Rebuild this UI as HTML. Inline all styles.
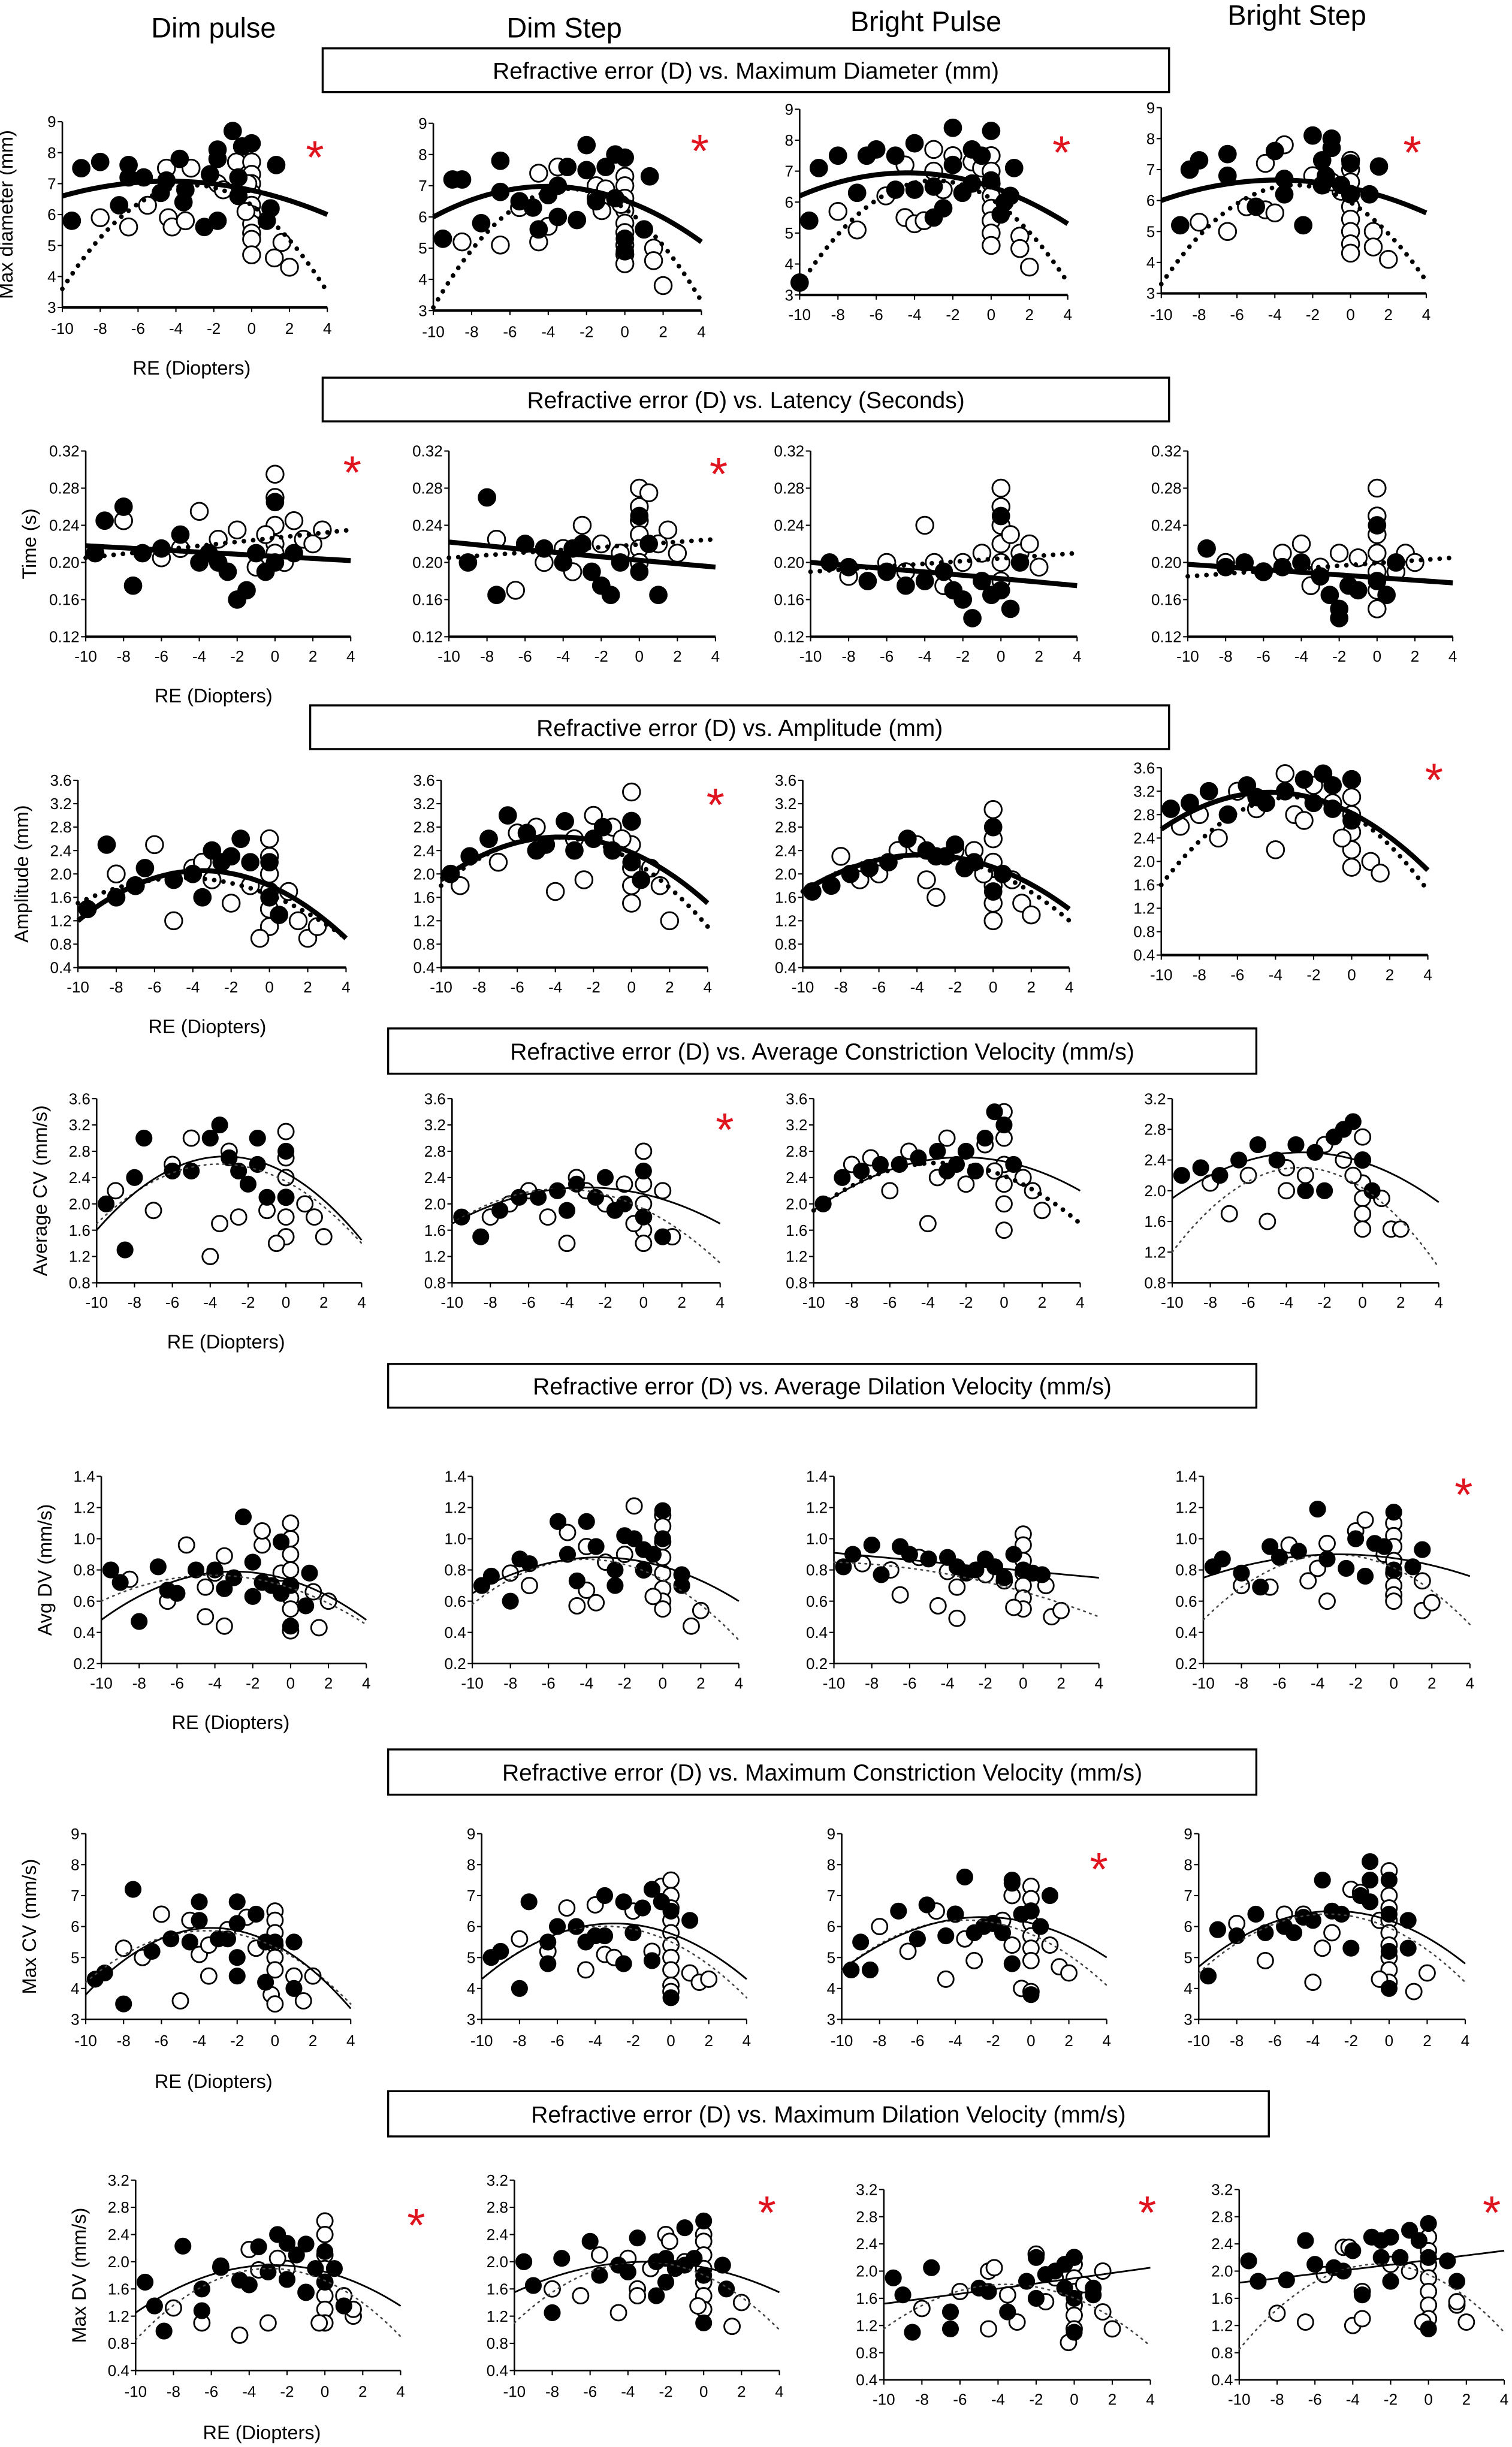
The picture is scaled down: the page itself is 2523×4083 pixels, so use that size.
<!DOCTYPE html>
<html><head><meta charset="utf-8">
<style>
html,body{margin:0;padding:0;background:#fff;}
svg{display:block;font-family:"Liberation Sans",sans-serif;}
</style></head>
<body>
<svg id="fig" xmlns="http://www.w3.org/2000/svg" width="2523" height="4083" viewBox="0 0 970 1568" preserveAspectRatio="none">
<rect x="0" y="0" width="970" height="1568" fill="#fff"/>
<text x="137" y="24" font-size="18" text-anchor="middle">Dim pulse</text>
<text x="362" y="24" font-size="18" text-anchor="middle">Dim Step</text>
<text x="594" y="20" font-size="18" text-anchor="middle">Bright Pulse</text>
<text x="832" y="16" font-size="18" text-anchor="middle">Bright  Step</text>
<g id="plots"></g>
</svg>
<script>
// ---------- data: [RE diopters, value] ----------
const r1c1F=[[-9.5,5.8],[-9,7.5],[-8,7.7],[-7,6.3],[-6.5,7.6],[-6.5,7.2],[-5.7,7.2],[-4.5,7.1],[-4.8,6.7],[-3.8,7.8],[-3.5,6.8],[-3.6,6.4],[-2.5,5.6],[-2.2,7.3],[-1.8,5.8],[-1.8,8.1],[-1.8,7.8],[-1,8.7],[-0.5,8.2],[-0.7,7.2],[0,8.3],[-0.7,6.6],[1,6.2],[0.8,5.8],[1.3,7.6]];
const r1c1O=[[-8,5.9],[-6.5,5.6],[-5.5,6.3],[-4.5,7.5],[-4.4,5.9],[-4.2,5.6],[-3.5,5.8],[-3.2,7.5],[-1.8,7],[-1.5,6.8],[-0.8,7.7],[0,7.7],[0,7.3],[0,7],[0,6.7],[0,6.3],[0,6],[0,5.7],[0,5.4],[0,5.2],[0,4.7],[-0.3,6.1],[-0.2,7],[1.2,4.6],[1.6,5.1],[2,4.3]];
const r1c2F=[[-9.5,5.3],[-9,7.2],[-8.5,7.2],[-7.5,5.8],[-6.5,7.8],[-6.5,6.8],[-5.5,6.5],[-4.8,6.3],[-4.5,5.6],[-4,6.7],[-3.5,6],[-3,7.6],[-2.5,5.9],[-2,8.3],[-2,7.5],[-1.5,6.5],[-1,7.6],[-0.5,8],[0,7.9],[-0.5,6.6],[0,5.3],[0,4.9],[1,5.6],[1.3,7.3],[-3.5,7]];
const r1c2O=[[-8.5,5.2],[-6.5,5.1],[-5.5,6.3],[-4.5,7.4],[-4.5,5.2],[-4,5.7],[-3.5,7.6],[-1.5,7],[-1.5,6.6],[-1,6.9],[0,7.3],[0,7],[0,6.6],[0,6.2],[0,5.8],[0,5.5],[0,5.1],[0,4.8],[0,4.5],[-0.2,6.4],[1.5,5],[1.5,4.6],[2,3.8],[-1.2,6.2]];
const r1c3F=[[-10,3.4],[-9.5,5.4],[-9,7.1],[-8,7.5],[-7,6.3],[-6.5,7.5],[-6,7.7],[-5,7.5],[-5,6.4],[-4,7.9],[-4,6.4],[-3,6.5],[-3,5.5],[-2,8.4],[-2,7.2],[-2.5,5.8],[-1.5,6.3],[-1,7.7],[-1,6.6],[-0.5,7.5],[0,8.3],[0,6.7],[0.5,5.6],[1,6.2],[1.2,7.1],[0.7,6]];
const r1c3O=[[-8,5.7],[-7,5.1],[-5.5,6.2],[-4.5,7.2],[-4.5,5.5],[-4,5.3],[-3.5,5.4],[-3,7.7],[-3,7],[-2,7.5],[-1,7.3],[-0.5,7.1],[0,7.5],[0,7],[0,6.6],[0,6.2],[0,5.8],[0,5.4],[0,5],[0,4.6],[1.5,4.9],[1.5,4.5],[2,3.9],[-2.5,6.4]];
const r1c4F=[[-9,5.2],[-8.5,7],[-8,7.3],[-6.5,7.5],[-6.5,6.8],[-5,5.8],[-4,7.6],[-3.5,6.7],[-3.5,6.2],[-2.5,5.2],[-2,8.1],[-1.5,7.3],[-1.5,6.5],[-1,8],[-1,7.7],[-0.5,6.5],[0,7.2],[0,6.2],[1,6.2],[1.5,7.1],[-1.3,6.8]];
const r1c4O=[[-8,5.3],[-6.5,5],[-5.5,5.8],[-4.5,7.2],[-4.5,5.7],[-4,5.6],[-3.5,7.8],[-2,6.8],[-1.5,6.5],[-0.5,6.3],[0,7.3],[0,7],[0,6.6],[0,6.2],[0,5.8],[0,5.4],[0,5],[0,4.6],[0,4.3],[1.2,5],[1.2,4.5],[2,4.1],[-1,6.6]];
const r2c1F=[[-9.5,0.21],[-9,0.245],[-8,0.26],[-7.5,0.175],[-7,0.21],[-6,0.215],[-5,0.23],[-4,0.2],[-3,0.2],[-2.5,0.19],[-2,0.16],[-1.5,0.17],[-1,0.21],[0,0.265],[0,0.2],[1,0.21],[-3.5,0.21],[-0.5,0.19]];
const r2c1O=[[-8,0.245],[-6,0.205],[-5,0.215],[-4,0.255],[-3,0.225],[-2,0.235],[-1,0.195],[0,0.295],[0,0.27],[0,0.24],[0,0.22],[0,0.21],[0.5,0.2],[1,0.245],[1.5,0.225],[2,0.22],[2.5,0.235],[-0.5,0.23]];
const r2c2F=[[-9,0.2],[-8,0.27],[-7.5,0.165],[-6,0.22],[-5,0.215],[-4,0.2],[-3,0.22],[-2.5,0.19],[-2,0.175],[-1.5,0.165],[-1,0.2],[0,0.25],[0,0.19],[1,0.165],[-3.5,0.215],[0.5,0.22]];
const r2c2O=[[-7.5,0.225],[-6.5,0.17],[-5,0.2],[-4,0.215],[-3,0.24],[-2,0.22],[-1,0.21],[0,0.28],[0,0.26],[0,0.245],[0,0.23],[0,0.215],[0,0.2],[0.5,0.275],[1,0.22],[1.5,0.235],[2,0.21],[-3.5,0.19]];
const r2c3F=[[-9,0.2],[-8,0.195],[-7,0.18],[-6,0.19],[-5,0.175],[-4,0.18],[-3,0.19],[-2.5,0.17],[-2,0.16],[-1.5,0.14],[-1,0.18],[0,0.25],[0,0.17],[0.5,0.15],[1,0.2],[-0.5,0.165]];
const r2c3O=[[-8,0.185],[-6,0.2],[-5,0.19],[-4,0.24],[-3,0.175],[-2,0.2],[-1,0.21],[0,0.28],[0,0.26],[0,0.24],[0,0.22],[0,0.2],[0,0.18],[0.5,0.23],[1,0.21],[1.5,0.22],[2,0.195],[-3.5,0.2]];
const r2c4F=[[-9,0.215],[-8,0.195],[-7,0.2],[-6,0.19],[-5,0.195],[-4,0.2],[-3,0.185],[-2.5,0.165],[-2,0.15],[-1.5,0.175],[-1,0.17],[0,0.24],[0,0.18],[0.5,0.165],[-2,0.14],[1,0.2]];
const r2c4O=[[-8,0.2],[-6,0.19],[-5,0.21],[-4,0.22],[-3,0.195],[-2,0.21],[-1,0.205],[0,0.28],[0,0.25],[0,0.23],[0,0.21],[0,0.19],[0,0.17],[0,0.15],[1,0.19],[1.5,0.21],[2,0.2],[-3.5,0.175]];
const r3c1F=[[-9.5,1.4],[-8,1.6],[-7,1.8],[-6.5,2.1],[-5,1.9],[-4,2],[-3,2.4],[-2.5,2.2],[-2,2.3],[-1.5,2.6],[-1,2.2],[0,2.2],[0,1.6],[0.5,1.3],[-3.5,1.6],[-8.5,2.5]];
const r3c1O=[[-8,2],[-7,1.8],[-6,2.5],[-5,1.2],[-4,2.1],[-3,1.9],[-2,1.5],[-1,1.8],[0,2.6],[0,2.3],[0,2],[0,1.7],[0,1.4],[0,1.1],[1,1.7],[1.5,1.2],[2,0.9],[2.5,1.1],[-0.5,0.9],[-3.5,2.2]];
const r3c2F=[[-9.5,2],[-8.5,2.3],[-7.5,2.6],[-6.5,3],[-5.5,2.7],[-4.5,2.5],[-3.5,2.9],[-3,2.4],[-2,2.6],[-1.5,2.8],[-1,2.4],[0,2.9],[0,2.2],[0.5,1.9],[-5,2.4]];
const r3c2O=[[-9,1.8],[-7,2.2],[-6,2.7],[-5,2.8],[-4,1.7],[-3,2.6],[-2,3],[-1,2.8],[0,3.4],[0,2.9],[0,2.5],[0,2.1],[0,1.8],[0,1.5],[1,2.1],[1.5,1.8],[2,1.2],[-2.5,1.9],[-0.5,2.6]];
const r3c3F=[[-9.5,1.7],[-8.5,1.8],[-7.5,2],[-6.5,2.1],[-5.5,2.2],[-4.5,2.6],[-3.5,2.4],[-2.5,2.3],[-2,2.5],[-1.5,2.1],[-1,2.2],[0,2.8],[0,1.7],[0.5,2],[-3,2.3]];
const r3c3O=[[-8,2.3],[-7,1.9],[-6,2],[-5,2.4],[-4,2.5],[-3,1.6],[-2,2.4],[-1,2.4],[0,3.1],[0,2.6],[0,2.2],[0,1.8],[0,1.5],[0,1.2],[1,1.9],[1.5,1.5],[2,1.3],[-3.5,1.9],[-0.5,2]];
const r3c4F=[[-9.5,2.9],[-8.5,3],[-7.5,3.2],[-6.5,2.8],[-5.5,3.3],[-4.5,3],[-3.5,3.2],[-2.5,3.4],[-2,3],[-1.5,3.5],[-1,2.9],[0,3.4],[0,2.7],[-5,3.1],[-1,3.3]];
const r3c4O=[[-9,2.6],[-8,2.8],[-7,2.4],[-6,3.2],[-5,2.9],[-4,2.2],[-3.5,3.5],[-3,2.8],[-2,3.3],[-1,3],[0,3.4],[0,3.1],[0,2.8],[0,2.5],[0,2.2],[0,1.9],[1,2],[1.5,1.8],[-2.5,2.7],[-0.5,2.4]];
const r4c1F=[[-9.5,2],[-8.5,1.3],[-8,2.4],[-7.5,3],[-6,2.5],[-5,2.5],[-4,3],[-3.5,3.2],[-3,2.7],[-2.5,2.5],[-2,2.3],[-1.5,2.6],[-1,2.1],[0,2.8],[0,2.1],[-1.5,3]];
const r4c1O=[[-9,2.2],[-7,1.9],[-6,2.6],[-5,3],[-4,1.2],[-3,2.8],[-2.5,1.8],[-1,1.9],[0,3.1],[0,2.7],[0,2.4],[0,2.1],[0,1.8],[0,1.5],[1,2],[1.5,1.8],[2,1.5],[-3.5,1.7],[-0.5,1.4]];
const r4c2F=[[-9.5,1.8],[-8.5,1.5],[-7.5,1.9],[-6.5,2.1],[-5.5,2.1],[-4.5,2.2],[-3.5,2.3],[-2.5,2.1],[-2,2.4],[-1.5,1.9],[-1,2],[0,2.5],[0,1.8],[1,1.5],[-4,1.9]];
const r4c2O=[[-8,1.8],[-7,2],[-6,2.2],[-5,1.8],[-4,1.4],[-3,2.2],[-2,2],[-1,2.3],[0,2.8],[0,2.3],[0,2],[0,1.8],[0,1.6],[0,1.4],[1,2.2],[1.5,1.5],[-3.5,2.4],[-0.5,1.7]];
const r4c3F=[[-9.5,2],[-8.5,2.4],[-7.5,2.5],[-6.5,2.6],[-5.5,2.6],[-4.5,2.7],[-3.5,2.8],[-2.5,2.6],[-2,2.8],[-1.5,2.5],[-1,3],[-0.5,3.4],[0,3.2],[0.5,2.6],[-3,2.5]];
const r4c3O=[[-8,2.6],[-7,2.7],[-6,2.2],[-5,2.8],[-4,1.7],[-3,3],[-2,2.3],[-1,2.9],[0,3.4],[0,3],[0,2.6],[0,2.3],[0,2],[0,1.6],[1,2.4],[1.5,2.2],[2,1.9],[-3.5,2.4],[-0.5,2.5]];
const r4c4F=[[-9.5,2.2],[-8.5,2.3],[-7.5,2.2],[-6.5,2.4],[-5.5,2.6],[-4.5,2.4],[-3.5,2.6],[-2.5,2.5],[-2,2],[-1.5,2.7],[-1,2.8],[-0.5,2.9],[0,2.4],[-3,2],[0.5,2]];
const r4c4O=[[-8,2.1],[-7,1.7],[-6,2.2],[-5,1.6],[-4,2.3],[-3,2.2],[-2,2.6],[-1,2.4],[0,2.7],[0,2.4],[0,2.1],[0,1.9],[0,1.7],[0,1.5],[1,1.9],[1.5,1.5],[2,1.5],[-4,2],[-0.5,2.2]];
const r5c1F=[[-9.5,0.8],[-9,0.72],[-8,0.47],[-7,0.82],[-6.5,0.67],[-6,0.65],[-5,0.8],[-4,0.8],[-3.5,0.68],[-3,0.75],[-2.5,1.14],[-2,0.63],[-2,0.85],[-1.5,0.72],[-1,0.7],[-0.5,0.98],[-0.5,0.65],[0,0.7],[0,0.44],[1,0.78],[0.8,0.57]];
const r5c1O=[[-8.5,0.74],[-6.5,0.6],[-5.5,0.96],[-4.5,0.5],[-4.5,0.69],[-4,0.78],[-3.5,0.89],[-3.5,0.44],[-1.5,0.96],[-1.5,1.05],[-0.5,0.78],[0,1.1],[0,1.0],[0,0.9],[0,0.8],[0,0.7],[0,0.62],[0,0.55],[0,0.41],[1.2,0.66],[1.5,0.43],[2,0.6]];
const r5c2F=[[-9.5,0.7],[-9,0.76],[-8,0.6],[-7.5,0.87],[-7,0.84],[-5.5,1.11],[-5,0.9],[-4.5,0.73],[-4,1.11],[-3.5,0.95],[-2.5,0.8],[-2,1.02],[-1.5,1],[-1,0.93],[-1,0.8],[-0.5,0.9],[0,1.18],[0,1.0],[1,0.7],[1,0.77],[-2.5,0.7]];
const r5c2O=[[-8,0.78],[-7,0.7],[-5,1.04],[-4.5,0.57],[-4,0.95],[-4,0.67],[-3.5,0.59],[-3,0.85],[-2,0.9],[-1.5,1.21],[-1,0.8],[0,1.15],[0,1.08],[0,0.98],[0,0.88],[0,0.78],[0,0.68],[0,0.6],[0,0.55],[1.5,0.44],[2,0.54],[-0.5,0.63]];
const r5c3F=[[-9.5,0.82],[-9,0.9],[-8,0.96],[-7.5,0.77],[-6.5,0.95],[-6,0.9],[-5,0.87],[-4,0.88],[-3.5,0.82],[-2.5,0.8],[-2,0.87],[-1.5,0.82],[-1,0.75],[-0.5,0.9],[0,0.8],[0.5,0.78],[1,0.77],[-3,0.78]];
const r5c3O=[[-8.5,0.84],[-7,0.8],[-6.5,0.64],[-5.5,0.88],[-4.5,0.57],[-4,0.79],[-3.5,0.69],[-3.5,0.49],[-2,0.77],[-1,0.73],[0,1.03],[0,0.96],[0,0.86],[0,0.78],[0,0.7],[0,0.62],[0,0.55],[-0.5,0.56],[1.2,0.7],[1.5,0.5],[2,0.54]];
const r5c4F=[[-9.5,0.82],[-9,0.87],[-8,0.78],[-7,0.69],[-6.5,0.95],[-6,0.88],[-5,0.92],[-4,1.19],[-3.5,0.87],[-2.5,0.81],[-2,1.0],[-1.5,0.76],[-1,0.97],[-0.5,0.95],[0,1.17],[0,0.8],[1,0.82],[1.5,0.93]];
const r5c4O=[[-8,0.7],[-6.5,0.69],[-5.5,0.96],[-4.5,0.73],[-4,0.81],[-3.5,0.6],[-3.5,0.97],[-2,1.05],[-1.5,1.12],[-0.5,0.9],[0,1.1],[0,1.02],[0,0.95],[0,0.86],[0,0.78],[0,0.7],[0,0.64],[0,0.6],[1.5,0.73],[1.5,0.54],[2,0.59]];
const r6c1F=[[-9.5,4.3],[-9,4.5],[-8,3.5],[-7.5,7.2],[-6.5,5.2],[-5.5,5.6],[-4.5,5.5],[-4,6.8],[-4,6.2],[-3,5.6],[-2.5,5.6],[-2,6.8],[-2,4.4],[-2,5],[-1,6.4],[-0.5,5.5],[-0.5,4.2],[0,5.5],[1,5.5],[1,4],[-2,6.1]];
const r6c1O=[[-8,5.3],[-7,5],[-6,6.4],[-5,3.6],[-4.5,6.2],[-4,5.1],[-3.5,5.4],[-3.5,4.4],[-1.5,6.3],[-1,5.3],[0,6.5],[0,6.2],[0,5.8],[0,5.4],[0,5],[0,4.6],[-0.2,3.8],[0,3.5],[1,4.4],[1.5,3.6],[2,4.4],[-2.5,5.9]];
const r6c2F=[[-9.5,5],[-9,5.2],[-8,4],[-7.5,6.8],[-6.5,4.8],[-6.5,5.5],[-6,6],[-5,6],[-4.5,5.5],[-4,5.7],[-3.5,7],[-3.5,5.7],[-2.5,6.8],[-2.5,4.8],[-2,5.8],[-1.5,6.6],[-1,7.2],[-1,4.9],[-0.5,6.8],[0,6.5],[0,3.7],[1,6.2]];
const r6c2O=[[-8,5.6],[-6.5,5.2],[-5.5,6.6],[-4.5,4.6],[-4,6.7],[-3.5,5.1],[-3,5],[-2,6.5],[-1,5.2],[-0.5,7.3],[0,7.5],[0,7],[0,6.6],[0,6.2],[0,5.8],[0,5.4],[0,5],[0,4.6],[0,4.1],[0,3.9],[1,4.5],[1.5,4.2],[2,4.3]];
const r6c3F=[[-9.5,4.6],[-9,5.5],[-8.5,4.6],[-7,6.5],[-6,5.6],[-5.5,6.7],[-4.5,5.7],[-4,6.4],[-3.5,7.6],[-3,5.8],[-2.5,6],[-2,6.1],[-1.5,5.8],[-1,7.4],[-1,7.5],[-1,4.8],[-0.5,6.4],[0,6.5],[0,3.8],[1,7],[0.5,6]];
const r6c3O=[[-8,6],[-6.5,5.2],[-5,6.5],[-4.5,4.3],[-4,6.4],[-3.5,5.6],[-3,4.9],[-2,6.1],[-1.5,6.2],[-1,7],[-1,5.4],[0,7.3],[0,6.9],[0,6.5],[0,6.1],[0,5.7],[0,5.3],[0,4.9],[-0.5,4],[0,3.9],[1,5.4],[1.5,4.7],[2,4.5]];
const r6c4F=[[-9.5,4.4],[-9,5.9],[-8,5.7],[-7,6.4],[-6.5,5.8],[-5.5,6],[-5,5.8],[-4,6.2],[-3.5,7.5],[-3,6.5],[-2.5,6.4],[-2,5.3],[-1.5,7],[-1,6.8],[-1,8.1],[-1,7.5],[0,7.5],[0,6.4],[0,5.2],[0,4],[1,6.2],[1,5.3],[-4.5,6.3]];
const r6c4O=[[-8,6.1],[-6.5,4.9],[-5.5,6.4],[-4.5,6.4],[-4,4.2],[-3.5,5.3],[-3,5.8],[-2,7.2],[-1.5,7.1],[-0.5,6.2],[0,7.8],[0,7],[0,6.6],[0,6.2],[0,5.8],[0,5.4],[0,5],[0,4.6],[0,4.2],[-0.5,4.3],[1.3,3.9],[2,4.5]];
const r7c1F=[[-9.5,1.7],[-9,1.35],[-8.5,0.98],[-7.5,2.23],[-6.5,1.6],[-6.5,1.28],[-5.5,1.94],[-4.5,1.73],[-4,1.66],[-3.5,2.22],[-3,1.85],[-2.5,2.4],[-2,2.27],[-2,1.74],[-1.5,2.1],[-1,2.26],[-1,1.55],[-0.5,1.9],[0,2.15],[0,1.7],[0.5,1.9],[1,1.35]];
const r7c1O=[[-8,1.32],[-6.5,1.1],[-5.5,1.92],[-4.5,0.92],[-4,2.18],[-3.5,1.88],[-3,1.1],[-2,1.9],[-1,1.55],[0,2.6],[0,2.4],[0,2.1],[0,1.9],[0,1.7],[0,1.5],[0,1.3],[0,1.1],[-0.3,1.1],[1,1.5],[1.5,1.2],[1.5,1.3],[-2.5,2.05]];
const r7c2F=[[-9.5,2],[-9,1.65],[-8,1.25],[-7.5,2.05],[-6,2.3],[-5.5,1.8],[-4.5,1.95],[-4,1.85],[-3.5,2.35],[-2.5,2],[-2,2.05],[-2,1.7],[-1.5,1.9],[-1,2.5],[-1,1.95],[-0.5,2.05],[0,2.6],[0,1.8],[0,1.1],[1,1.95],[1.2,1.6],[-2.5,1.5]];
const r7c2O=[[-8,1.6],[-6.5,1.5],[-5.5,2.1],[-4.5,1.25],[-4,2.05],[-3.5,1.6],[-3.5,1.5],[-2,2.4],[-1.8,2.3],[-1,2],[0,2.4],[0,2.3],[0,2.1],[0,1.9],[0,1.7],[0,1.5],[0,1.3],[-0.3,1.35],[1.5,1.05],[2,1.4],[-2.8,1.9]];
const r7c3F=[[-9.5,1.9],[-9,1.65],[-8.5,1.1],[-7.5,2.05],[-6.5,1.4],[-6.5,1.15],[-5,1.75],[-4.5,1.7],[-3.5,1.4],[-2.5,1.85],[-2,2.2],[-2,1.6],[-1.5,1.95],[-1,2],[-0.5,2.1],[-0.5,1.75],[0,2.2],[0,1.6],[1,1.75],[1,1.65],[0,1.1]];
const r7c3O=[[-8,1.45],[-6,1.7],[-4.5,1.15],[-4.5,2.0],[-4.2,2.05],[-3.5,1.65],[-3,1.25],[-2,2.25],[-1.5,1.55],[-1,1.9],[0,2.2],[0,2.1],[0,1.9],[0,1.7],[0,1.5],[0,1.35],[0,1.15],[-0.3,0.95],[0.5,1.8],[1.5,2.0],[1.5,1.4],[2,1.15]];
const r7c4F=[[-9.5,2.15],[-9,1.85],[-7.5,1.87],[-6.5,2.45],[-6,2.1],[-5,2.05],[-4.5,2.0],[-4,2.3],[-3,2.5],[-2.5,2.45],[-2.5,2.2],[-2,2.5],[-2,1.85],[-1.5,2.2],[-1,2.6],[-0.5,2.45],[0,2.7],[0,2.2],[0,1.15],[1,2.15],[1.5,1.85],[-3.5,1.65]];
const r7c4O=[[-8,1.38],[-6.5,1.25],[-5.5,1.95],[-4.5,2.35],[-4.2,2.35],[-4,1.2],[-3.5,1.3],[-3.5,1.7],[-2,2.1],[-1,2.0],[0,2.5],[0,2.3],[0,2.1],[0,1.9],[0,1.7],[0,1.5],[0,1.3],[-0.3,1.25],[1.5,1.5],[1.5,1.55],[2,1.25]];

// fit curve values at RE = -10, -3, +4 (solid = filled group, dotted = open group)
const solidFits=[[6.6,7.05,6.0],[6.0,6.95,5.2],[6.2,6.9,5.3],[6.0,6.65,5.6],
 [0.218,0.21,0.202],[0.222,0.208,0.195],[0.2,0.188,0.175],[0.198,0.188,0.178],
 [1.2,2.05,0.9],[1.9,2.62,1.5],[1.7,2.32,1.4],[2.55,3.15,1.85],
 [1.6,2.72,1.45],[1.7,2.25,1.7],[1.9,2.7,2.2],[1.9,2.5,1.85],
 [0.48,0.79,0.48],[0.65,0.88,0.6],[0.91,0.83,0.75],[0.75,0.9,0.76],
 [3.8,5.95,3.35],[4.3,6.1,4.3],[4.6,6.3,5.0],[4.7,6.5,4.8],
 [1.25,1.95,1.35],[1.55,2.0,1.55],[1.52,1.78,2.05],[1.83,2.06,2.3]];
const dottedFits=[[3.6,6.95,3.5],[3.1,6.9,3.3],[3.3,6.7,3.4],[3.3,6.5,3.4],
 [0.205,0.22,0.235],[0.205,0.215,0.225],[0.19,0.2,0.21],[0.185,0.195,0.205],
 [1.5,1.9,0.9],[1.8,2.6,1.1],[1.7,2.3,1.2],[1.6,3.1,1.5],
 [1.7,2.6,1.4],[1.7,2.2,1.1],[1.9,2.62,1.7],[1.2,2.3,1.0],
 [0.6,0.76,0.45],[0.58,0.86,0.35],[0.85,0.75,0.5],[0.48,0.9,0.45],
 [4.2,5.85,3.5],[4.3,6.0,3.7],[4.6,6.2,4.1],[4.5,6.4,4.2],
 [0.85,1.9,0.9],[1.1,2.0,1.0],[1.15,1.8,0.9],[0.85,2.1,1.1]];
const points=[r1c1F,r1c1O,r1c2F,r1c2O,r1c3F,r1c3O,r1c4F,r1c4O,r2c1F,r2c1O,r2c2F,r2c2O,r2c3F,r2c3O,r2c4F,r2c4O,
 r3c1F,r3c1O,r3c2F,r3c2O,r3c3F,r3c3O,r3c4F,r3c4O,r4c1F,r4c1O,r4c2F,r4c2O,r4c3F,r4c3O,r4c4F,r4c4O,
 r5c1F,r5c1O,r5c2F,r5c2O,r5c3F,r5c3O,r5c4F,r5c4O,r6c1F,r6c1O,r6c2F,r6c2O,r6c3F,r6c3O,r6c4F,r6c4O,
 r7c1F,r7c1O,r7c2F,r7c2O,r7c3F,r7c3O,r7c4F,r7c4O];
const xTicks=[-10,-8,-6,-4,-2,0,2,4];
const rowTitles=["Refractive error (D) vs. Maximum Diameter (mm)","Refractive error (D) vs. Latency (Seconds)","Refractive error (D) vs. Amplitude (mm)","Refractive error (D) vs. Average Constriction Velocity (mm/s)","Refractive error (D) vs. Average Dilation Velocity (mm/s)","Refractive error (D) vs. Maximum Constriction Velocity (mm/s)","Refractive error (D) vs. Maximum Dilation Velocity (mm/s)"];
const yLabels=["Max diameter (mm)","Time (s)","Amplitude (mm)","Average CV (mm/s)","Avg DV (mm/s)","Max CV (mm/s)","Max DV (mm/s)"];
const yRanges=[[3,9,1,0],[0.12,0.32,0.04,2],[0.4,3.6,0.4,1],[0.8,3.6,0.4,1],[0.2,1.4,0.2,1],[3,9,1,0],[0.4,3.2,0.4,1]];
const yRangeOverride={15:[0.8,3.2,0.4,1]};
const sigRows=[[1,1,1,1],[1,1,0,0],[0,1,0,1],[0,1,0,0],[0,0,0,1],[0,0,1,0],[1,1,1,1]];

// ---------- layout ----------
const boxes=[[207,31,750,59],[207,242,750,270],[199,452,750,480],[249,659,806,688],[249,874,806,902],[249,1121,806,1150],[249,1340,814,1369]];
const geo=[
 [[40,210,78,197,214],[278,450,79,199,216],[513,685,70,189,205],[745,915,69,188,205]],
 [[55,225,289,408,424],[288,459,289,408,424],[520,691,289,408,424],[762,932,289,408,424]],
 [[50,222,500,620,636],[283,454,500,620,636],[515,686,500,620,636],[745,916,492,612,628]],
 [[62,232,704,822,838],[290,462,704,822,838],[522,693,704,822,838],[752,923,704,822,838]],
 [[65,235,946,1066,1082],[303,474,946,1066,1082],[535,705,946,1066,1082],[772,943,946,1066,1082]],
 [[55,225,1175,1294,1311],[309,479,1175,1294,1311],[540,710,1175,1294,1311],[769,940,1175,1294,1311]],
 [[87,257,1397,1519,1536],[330,500,1397,1519,1536],[567,738,1403,1525,1541],[795,965,1403,1525,1541]]];
const reLabels=[[123,240],[137,450],[133,662],[145,864],[148,1108],[137,1338],[168,1563]];
const ast=[[[202,97],[449,93],[681,94],[906,94]],[[226,299],[461,300],0,0],[0,[459,512],0,[920,496]],[0,[465,720],0,0],[0,0,0,[939,954]],[0,0,[705,1194],0],[[267,1422],[492,1414],[736,1414],[957,1414]]];
const NS="http://www.w3.org/2000/svg";
const root=document.getElementById('plots');
function mk(tag,attrs,parent){const e=document.createElementNS(NS,tag);for(const k in attrs)e.setAttribute(k,attrs[k]);(parent||root).appendChild(e);return e;}
function quad(v,x){
 const a=v[0],b=v[1],c=v[2];
 const L0=((x+3)*(x-4))/((-7)*(-14)),L1=((x+10)*(x-4))/((7)*(-7)),L2=((x+10)*(x+3))/((14)*(7));
 return a*L0+b*L1+c*L2;}
for(let r=0;r<7;r++){
 const [bx0,by0,bx1,by1]=boxes[r];
 const tb=mk('rect',{x:bx0,y:by0,width:bx1-bx0,height:by1-by0,fill:'#fff',stroke:'#000','stroke-width':1.3});
 
 
 const tt=mk('text',{x:(bx0+bx1)/2,y:(by0+by1)/2+5.5,'font-size':15,'text-anchor':'middle'});
 tt.textContent=rowTitles[r];
 
 
 const re=mk('text',{x:reLabels[r][0],y:reLabels[r][1],'font-size':12.5,'text-anchor':'middle'});
 re.textContent='RE (Diopters)';
 
 
 const thick=r<3;
 for(let c=0;c<4;c++){
  const idx=r*4+c;
  const [ymin,ymax,ystep,dec]=yRangeOverride[idx]||yRanges[r];
  const [x0,x1,yT,yB,tly]=geo[r][c];
  const g=mk('g',{});
  
  
  const sx=v=>x0+(v+10)/14*(x1-x0);
  const sy=v=>yB-(v-ymin)/(ymax-ymin)*(yB-yT);
  const ya=mk('line',{x1:x0,y1:yT,x2:x0,y2:yB,stroke:'#000','stroke-width':1},g);
  
  
  const xa=mk('line',{x1:x0,y1:yB,x2:x1,y2:yB,stroke:'#000','stroke-width':thick?1.6:1},g);
  
  
  const nT=Math.round((ymax-ymin)/ystep);
  for(let i=0;i<=nT;i++){
   const v=ymin+i*ystep;const y=sy(v);
   mk('line',{x1:x0-3,y1:y,x2:x0,y2:y,stroke:'#000','stroke-width':0.8},g);
   const t=mk('text',{x:x0-4,y:y+3.5,'font-size':10,'text-anchor':'end'},g);
   t.textContent=v.toFixed(dec);
   
   
  }
  xTicks.forEach(v=>{
   const x=sx(v);
   mk('line',{x1:x,y1:yB,x2:x,y2:yB+3,stroke:'#000','stroke-width':0.8},g);
   const t=mk('text',{x:x,y:tly,'font-size':10,'text-anchor':'middle'},g);
   t.textContent=String(v);
   
   
  });
  const rad=thick?5.5:5;
  points[idx*2+1].forEach(p=>{
   const e=mk('circle',{cx:sx(p[0]),cy:sy(p[1]),r:rad,fill:'#fff',stroke:'#000','stroke-width':1.1},g);
   
   
  });
  points[idx*2].forEach(p=>{
   const e=mk('circle',{cx:sx(p[0]),cy:sy(p[1]),r:rad,fill:'#000',stroke:'#000','stroke-width':0.8},g);
   
   
  });
  let ds='',dd='';
  for(let k=0;k<=56;k++){const x=-10+k*0.25;
   ds+=(k?'L':'M')+sx(x).toFixed(2)+','+sy(quad(solidFits[idx],x)).toFixed(2);
   dd+=(k?'L':'M')+sx(x).toFixed(2)+','+sy(quad(dottedFits[idx],x)).toFixed(2);}
  const boldDot=thick||idx===14;
  const dl=mk('path',{d:dd,fill:'none',stroke:boldDot?'#000':'#444','stroke-width':boldDot?3:1,'stroke-dasharray':boldDot?'0 6':'1 3','stroke-linecap':'round'},g);
  
  
  const sl=mk('path',{d:ds,fill:'none',stroke:'#000','stroke-width':thick?3.2:1.1},g);
  
  
  if(sigRows[r][c]&&ast[r][c]){
   const a=mk('text',{x:ast[r][c][0],y:ast[r][c][1]+14,'font-size':30,fill:'#e0141e','text-anchor':'middle'},g);
   a.textContent='*';
   
   
  }
  if(c===0){
   const cy=(yT+yB)/2;const lx=x0-32;
   const yl=mk('text',{x:lx,y:cy,'font-size':12.5,'text-anchor':'middle',transform:'rotate(-90 '+lx+' '+cy+')'},g);
   yl.textContent=yLabels[r];
   
   
  }
 }
}
</script>
</body></html>
